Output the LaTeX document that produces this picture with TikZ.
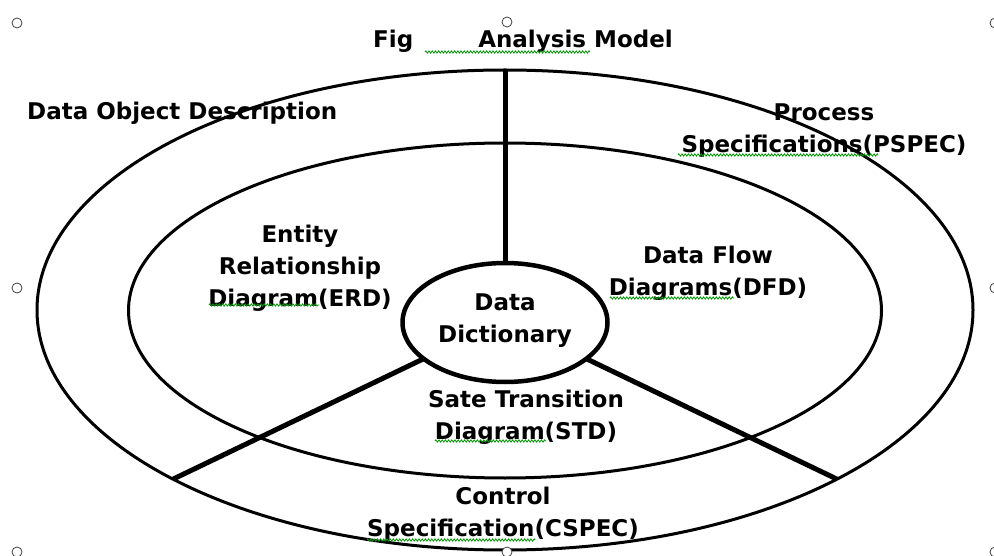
\documentclass[tikz,border=0pt]{standalone}
\usepackage{fontspec}
\setmainfont{DejaVu Sans}
\usetikzlibrary{shapes.geometric,decorations.pathmorphing}
\begin{document}
\begin{tikzpicture}[x=1pt,y=-1pt,
  ring/.style={draw, ellipse, line width=3pt, inner sep=0pt, outer sep=0pt},
  spoke/.style={line width=5pt},
  lbl/.style={font=\fontsize{23}{32}\selectfont\bfseries, align=center, inner sep=0pt, anchor=north},
  lbl1/.style={font=\fontsize{23}{32}\selectfont\bfseries, inner sep=0pt},
  squiggle/.style={draw=green!60!black, line width=0.8pt, decorate,
    decoration={zigzag, segment length=3.2pt, amplitude=1.1pt}},
  handle/.style={draw=black!75, fill=white, line width=0.8pt, circle,
    minimum size=10pt, inner sep=0pt}]
\fill[white] (0,0) rectangle (994,556);
\useasboundingbox (0,0) rectangle (994,556);

% concentric rings of the model
\node[ring, minimum width=936pt, minimum height=480pt] (outer) at (505,310) {};
\node[ring, minimum width=753pt, minimum height=335pt] (inner) at (505,310.5) {};

% spokes dividing the rings
\coordinate (ddc) at (505,322.5);
\node[ring, line width=4.5pt, minimum width=205pt, minimum height=119pt] (dd) at (ddc) {};
\draw[spoke] (dd.north) -- (outer.north);
\draw[spoke] (dd.204) -- (outer.207);
\draw[spoke] (dd.-24) -- (outer.-27);

% labels
\node[lbl1, anchor=base west] (title) at (373,48) {Fig\hspace{65pt}Analysis Model};
\node[lbl1, anchor=base west] (dod) at (27,120) {Data Object Description};
\node[lbl] (pspec) at (824,97.6) {\strut Process\\Specifications(PSPEC)};
\node[lbl] (erd) at (300,219.6) {\strut Entity\\Relationship\\Diagram(ERD)};
\node[lbl] (dfd) at (708,240.6) {\strut Data Flow\\Diagrams(DFD)};
\node[lbl] (ddtext) at (505,287.6) {\strut Data\\Dictionary};
\node[lbl] (std) at (526,384.6) {\strut Sate Transition\\Diagram(STD)};
\node[lbl] (cspec) at (503,481.6) {\strut Control\\Specification(CSPEC)};

% wavy underlines
\draw[squiggle] (425,52) -- (590,52);
\draw[squiggle] (678,155) -- (878,155);
\draw[squiggle] (209,305) -- (319,305);
\draw[squiggle] (610,298) -- (734,298);
\draw[squiggle] (435,441) -- (546,441);
\draw[squiggle] (367,540) -- (535,540);

% sizing handles
\foreach \p [count=\i] in {(17,23),(507,22),(995,23),(17,288),(995,288),(17,552),(507,552),(995,552)}
  \node[handle] (h\i) at \p {};
\end{tikzpicture}
\end{document}
